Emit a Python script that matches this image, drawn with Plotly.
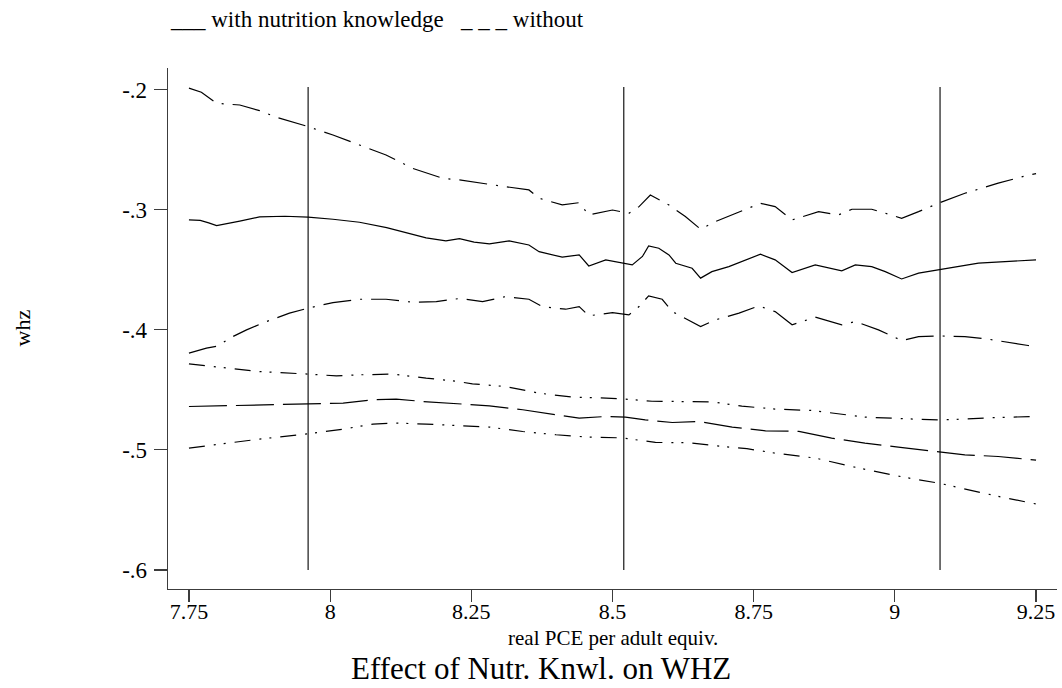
import plotly.graph_objects as go

# ---- data ----
with_est_x = [7.750, 7.770, 7.785, 7.799, 7.840, 7.875, 7.920, 7.961, 8.005, 8.052, 8.100, 8.140, 8.170, 8.205,
              8.229, 8.255, 8.282, 8.317, 8.352, 8.370, 8.411, 8.441, 8.458, 8.488, 8.517, 8.535, 8.553, 8.564,
              8.582, 8.600, 8.612, 8.641, 8.656, 8.676, 8.706, 8.738, 8.762, 8.788, 8.818, 8.859, 8.906, 8.930,
              8.959, 8.983, 9.012, 9.042, 9.077, 9.106, 9.148, 9.195, 9.250]
with_est_y = [-0.3086, -0.3090, -0.3110, -0.3133, -0.3095, -0.3060, -0.3055, -0.3063, -0.3080, -0.3105, -0.3150,
              -0.3202, -0.3235, -0.3260, -0.3241, -0.3270, -0.3285, -0.3260, -0.3294, -0.3350, -0.3396, -0.3377,
              -0.3469, -0.3418, -0.3441, -0.3460, -0.3390, -0.3302, -0.3321, -0.3377, -0.3446, -0.3488, -0.3570,
              -0.3516, -0.3474, -0.3418, -0.3371, -0.3418, -0.3524, -0.3460, -0.3510, -0.3460, -0.3474, -0.3516,
              -0.3577, -0.3529, -0.3502, -0.3483, -0.3446, -0.3433, -0.3418]

with_upper_x = [7.750, 7.772, 7.799, 7.840, 7.875, 7.905, 7.961, 8.005, 8.052, 8.099, 8.146, 8.199, 8.229, 8.252,
                8.311, 8.352, 8.370, 8.411, 8.441, 8.458, 8.500, 8.529, 8.547, 8.567, 8.600, 8.629, 8.656, 8.682,
                8.724, 8.762, 8.788, 8.818, 8.865, 8.900, 8.924, 8.959, 8.983, 9.012, 9.042, 9.077, 9.124, 9.183,
                9.233, 9.250]
with_upper_y = [-0.1988, -0.2023, -0.2115, -0.2129, -0.2176, -0.2231, -0.2309, -0.2379, -0.2462, -0.2545, -0.2656,
                -0.2739, -0.2753, -0.2767, -0.2809, -0.2836, -0.2905, -0.2961, -0.2942, -0.3044, -0.3003, -0.3030,
                -0.2975, -0.2878, -0.2961, -0.3058, -0.3163, -0.3100, -0.3017, -0.2947, -0.2975, -0.3086, -0.3017,
                -0.3044, -0.2997, -0.2997, -0.3030, -0.3072, -0.3017, -0.2947, -0.2864, -0.2780, -0.2717, -0.2700]

with_lower_x = [7.750, 7.781, 7.802, 7.822, 7.852, 7.887, 7.928, 7.961, 8.005, 8.052, 8.099, 8.146, 8.188, 8.229,
                8.270, 8.311, 8.352, 8.376, 8.417, 8.441, 8.458, 8.500, 8.529, 8.547, 8.564, 8.588, 8.606, 8.629,
                8.656, 8.682, 8.724, 8.759, 8.788, 8.818, 8.859, 8.906, 8.930, 8.971, 9.012, 9.042, 9.077, 9.124,
                9.165, 9.236, 9.250]
with_lower_y = [-0.4195, -0.4153, -0.4134, -0.4070, -0.4001, -0.3932, -0.3862, -0.3820, -0.3774, -0.3746, -0.3746,
                -0.3771, -0.3765, -0.3740, -0.3765, -0.3724, -0.3746, -0.3807, -0.3829, -0.3807, -0.3884, -0.3857,
                -0.3876, -0.3807, -0.3718, -0.3746, -0.3849, -0.3904, -0.3973, -0.3918, -0.3862, -0.3801, -0.3849,
                -0.3959, -0.3895, -0.3959, -0.3932, -0.4001, -0.4090, -0.4057, -0.4051, -0.4057, -0.4078, -0.4131,
                -0.4140]

without_est_x = [7.750, 7.817, 7.875, 7.961, 8.023, 8.076, 8.117, 8.164, 8.217, 8.282, 8.341, 8.400, 8.441, 8.488,
                 8.523, 8.558, 8.606, 8.653, 8.712, 8.771, 8.830, 8.888, 8.947, 9.006, 9.077, 9.124, 9.183, 9.250]
without_est_y = [-0.4639, -0.4633, -0.4625, -0.4619, -0.4611, -0.4583, -0.4577, -0.4597, -0.4611, -0.4633, -0.4666,
                 -0.4708, -0.4736, -0.4722, -0.4727, -0.4750, -0.4772, -0.4764, -0.4810, -0.4841, -0.4846, -0.4902,
                 -0.4943, -0.4977, -0.5013, -0.5041, -0.5055, -0.5085]

without_upper_x = [7.750, 7.817, 7.875, 7.961, 8.011, 8.052, 8.111, 8.170, 8.217, 8.252, 8.311, 8.370, 8.429, 8.476,
                   8.517, 8.570, 8.623, 8.676, 8.729, 8.788, 8.853, 8.912, 8.947, 9.018, 9.077, 9.118, 9.183, 9.250]
without_upper_y = [-0.4284, -0.4320, -0.4348, -0.4369, -0.4384, -0.4375, -0.4369, -0.4403, -0.4425, -0.4450, -0.4473,
                   -0.4528, -0.4561, -0.4566, -0.4575, -0.4595, -0.4597, -0.4600, -0.4636, -0.4660, -0.4672, -0.4708,
                   -0.4727, -0.4741, -0.4750, -0.4744, -0.4730, -0.4722]

without_lower_x = [7.750, 7.817, 7.875, 7.961, 8.023, 8.076, 8.117, 8.170, 8.217, 8.282, 8.341, 8.400, 8.458, 8.517,
                   8.576, 8.635, 8.694, 8.738, 8.788, 8.859, 8.936, 9.018, 9.077, 9.124, 9.183, 9.250]
without_lower_y = [-0.4985, -0.4943, -0.4910, -0.4866, -0.4827, -0.4785, -0.4777, -0.4785, -0.4797, -0.4810, -0.4847,
                   -0.4874, -0.4894, -0.4900, -0.4938, -0.4940, -0.4972, -0.4990, -0.5027, -0.5068, -0.5151, -0.5229,
                   -0.5276, -0.5326, -0.5387, -0.5450]

ref_lines_x = [7.961, 8.520, 9.080]
ref_lines_y = [-0.600, -0.198]

x_tick_vals = [7.75, 8.0, 8.25, 8.5, 8.75, 9.0, 9.25]
x_tick_text = ["7.75", "8", "8.25", "8.5", "8.75", "9", "9.25"]
y_tick_vals = [-0.6, -0.5, -0.4, -0.3, -0.2]
y_tick_text = ["-.6", "-.5", "-.4", "-.3", "-.2"]

FONT = "Liberation Serif, Times New Roman, serif"
INK = "#000000"
AXIS = "#3c3c3c"

fig = go.Figure()

# reference vertical lines
vx, vy = [], []
for xv in ref_lines_x:
    vx += [xv, xv, None]
    vy += [ref_lines_y[0], ref_lines_y[1], None]
fig.add_trace(go.Scatter(x=vx, y=vy, mode="lines", line=dict(color=INK, width=1.1),
                         showlegend=False, hoverinfo="skip"))

series = [
    (with_upper_x, with_upper_y, "28px,9px,2px,9px", "with, upper"),
    (with_est_x, with_est_y, "solid", "with nutrition knowledge"),
    (with_lower_x, with_lower_y, "28px,9px,2px,9px", "with, lower"),
    (without_upper_x, without_upper_y, "16px,9px,2px,8px,2px,9px", "without, upper"),
    (without_est_x, without_est_y, "38px,9px", "without"),
    (without_lower_x, without_lower_y, "16px,9px,2px,8px,2px,9px", "without, lower"),
]
for xs, ys, dash, name in series:
    fig.add_trace(go.Scatter(x=xs, y=ys, mode="lines", name=name,
                             line=dict(color=INK, width=1.2, dash=dash),
                             showlegend=False))

L, R, T, B = 168, 5, 68, 99
W, H = 1062, 688

fig.update_layout(
    width=W, height=H,
    margin=dict(l=L, r=R, t=T, b=B, pad=0),
    paper_bgcolor="white", plot_bgcolor="white",
    font=dict(family=FONT, size=22, color=INK),
    showlegend=False,
)
fig.update_xaxes(range=[7.7129, 9.2871], tickvals=x_tick_vals, ticktext=x_tick_text,
                 showgrid=False, zeroline=False, showline=True, linecolor=AXIS, linewidth=1.3,
                 ticks="outside", ticklen=12, tickwidth=1.2, tickcolor=AXIS,
                 ticklabelstandoff=-10,
                 tickfont=dict(family=FONT, size=22, color=INK))
fig.update_yaxes(range=[-0.6158, -0.1821], tickvals=y_tick_vals, ticktext=y_tick_text,
                 showgrid=False, zeroline=False, showline=True, linecolor=AXIS, linewidth=1.3,
                 ticks="outside", ticklen=13, tickwidth=1.2, tickcolor=AXIS,
                 ticklabelstandoff=2,
                 tickfont=dict(family=FONT, size=23, color=INK))

pw = W - L - R
ph = H - T - B
nb = "\u00a0"
fig.add_annotation(text="___" + nb + "with nutrition knowledge" + nb * 3 + "_" + nb + "_" + nb + "_" + nb + "without",
                   xref="paper", yref="paper", x=0, y=(H - B - 19) / ph,
                   xanchor="left", yanchor="middle", showarrow=False,
                   font=dict(family=FONT, size=23, color=INK))
fig.add_annotation(text="real PCE per adult equiv.", xref="paper", yref="paper",
                   x=0.5, y=-(638 - (H - B)) / ph, xanchor="center", yanchor="middle",
                   showarrow=False, font=dict(family=FONT, size=21, color=INK))
fig.add_annotation(text="Effect of Nutr. Knwl. on WHZ", xref="paper", yref="paper",
                   x=(541 - L) / pw, y=-(668 - (H - B)) / ph, xanchor="center", yanchor="middle",
                   showarrow=False, font=dict(family=FONT, size=31, color=INK))
fig.add_annotation(text="whz", xref="paper", yref="paper",
                   x=(22 - L) / pw, y=0.5, xanchor="center", yanchor="middle", textangle=-90,
                   showarrow=False, font=dict(family=FONT, size=22, color=INK))

# the page body has a default 8px margin; remove it so the figure sits at the window origin
fig.write_html("out.html", config={"displayModeBar": False, "staticPlot": True},
               post_script="document.body.style.margin='0';")
